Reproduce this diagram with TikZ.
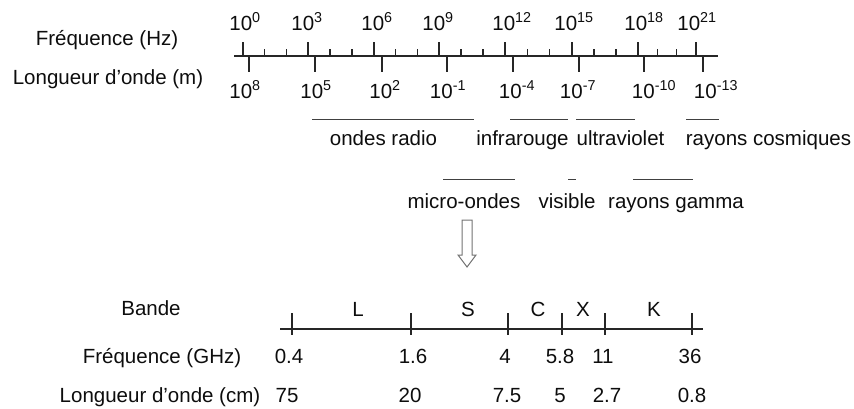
\documentclass[tikz,border=0pt]{standalone}
\usepackage{fontspec}
\setmainfont{Liberation Sans}
\usetikzlibrary{positioning}

\begin{document}
\begin{tikzpicture}[
  x=1pt, y=-1pt,
  font=\fontsize{20.5}{24}\selectfont,
  every node/.style={inner sep=0pt, text=black!95},
  etiquette/.style={anchor=base},
  axe/.style={line width=1.1pt, draw=black!85},
  graduation/.style={line width=1.1pt, draw=black!85},
  barre/.style={line width=1pt, draw=black!75},
  fleche/.style={line width=1pt, draw=black!55, fill=white, line join=miter}
]
  \useasboundingbox (0,0) rectangle (854,408);

  % Spectre complet
  \node[etiquette] (freqhz) at (107,45) {Fréquence (Hz)};
  \node[etiquette] (ondem) at (108,84) {Longueur d’onde (m)};

  \draw[axe] (234,56) -- (718,56);
  \foreach \x in {243,308,374,439,505,572,638,696} {
    \draw[graduation] (\x,42) -- (\x,56);
  }
  \foreach \a/\b in {243/308,308/374,374/439,439/505,505/572,572/638,638/696} {
    \draw[graduation] ({\a+(\b-\a)/3},49) -- ++(0,7);
    \draw[graduation] ({\a+2*(\b-\a)/3},49) -- ++(0,7);
  }
  \foreach \x in {249,315,382,447,513,579,644,703} {
    \draw[graduation] (\x,56) -- (\x,72);
  }

  \foreach \x/\e [count=\i] in {245/0,307/3,377/6,438/9,512/12,574/15,644/18,697/21} {
    \node[etiquette] (f\i) at (\x,30) {10\textsuperscript{\e}};
  }
  \foreach \x/\e [count=\i] in {245/8,316/5,385/2,448/-1,517/-4,578/-7,654/-10,716/-13} {
    \node[etiquette] (l\i) at (\x,98) {10\textsuperscript{\e}};
  }

  % Domaines
  \foreach \a/\b/\y in {312/474/119,510/568/119,576/635/119,686/719/119,
                        443/515/179,568/576/179,633/693/179} {
    \draw[barre] (\a,\y) -- (\b,\y);
  }
  \node[etiquette] (radio) at (383.5,145) {ondes radio};
  \node[etiquette] (infra) at (522.5,145) {infrarouge};
  \node[etiquette] (uv) at (620.5,145) {ultraviolet};
  \node[etiquette] (cosmiques) at (768.5,145) {rayons cosmiques};
  \node[etiquette] (micro) at (464,208) {micro-ondes};
  \node[etiquette] (visible) at (567,208) {visible};
  \node[etiquette] (gamma) at (676,208) {rayons gamma};

  % Fleche creuse
  \draw[fleche] (462,220) -- (472,220) -- (472,255) -- (476,255) -- (467,267)
    -- (458,255) -- (462,255) -- cycle;

  % Bandes radar
  \node[etiquette] (bande) at (151,315) {Bande};
  \node[etiquette] (freqghz) at (162,363) {Fréquence (GHz)};
  \node[etiquette] (ondecm) at (160,402) {Longueur d’onde (cm)};

  \draw[axe] (280,329) -- (703,329);
  \foreach \x in {292,411,508,562,605,692} {
    \draw[graduation] (\x,313) -- (\x,335);
  }
  \foreach \x/\b in {358/L,468/S,538/C,583/X,654/K} {
    \node[etiquette] (b\b) at (\x,316) {\b};
  }
  \foreach \x/\v [count=\i] in {289/0.4,413/1.6,505/4,560/5.8,603/11,690/36} {
    \node[etiquette] (g\i) at (\x,363) {\v};
  }
  \foreach \x/\v [count=\i] in {287/75,410/20,507/7.5,560/5,607/2.7,692/0.8} {
    \node[etiquette] (c\i) at (\x,402) {\v};
  }

\end{tikzpicture}
\end{document}
